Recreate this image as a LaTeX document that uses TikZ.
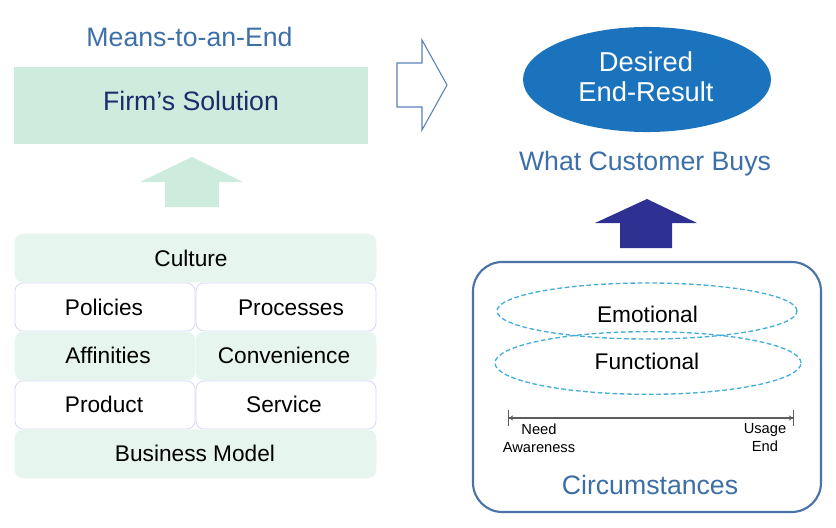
\documentclass[tikz,border=0pt]{standalone}
\usepackage{fontspec}
\setmainfont{Liberation Sans}
\usepackage{tikz}
\usetikzlibrary{positioning}
\usetikzlibrary{arrows.meta}

\definecolor{mint}{HTML}{CDECDD}
\definecolor{mintpale}{HTML}{E6F6EF}
\definecolor{lavender}{HTML}{D8D8F4}
\definecolor{steel}{HTML}{3D6FA7}
\definecolor{navytext}{HTML}{1D2B6A}
\definecolor{resultblue}{HTML}{1B73BE}
\definecolor{navyarrow}{HTML}{2E3192}
\definecolor{outlineblue}{HTML}{5B80B6}
\definecolor{dashblue}{HTML}{45AEDB}
\definecolor{framecol}{HTML}{4A73A8}
\definecolor{linegray}{HTML}{5E5E5E}

\begin{document}
\begin{tikzpicture}[x=0.75pt,y=-0.75pt,
    every node/.style={inner sep=0pt, anchor=base},
    headtext/.style={font=\fontsize{20}{24}\selectfont, text=steel},
    celltext/.style={font=\fontsize{17}{20}\selectfont, text=black},
    greencell/.style={fill=mintpale, draw=mintpale, rounded corners=6pt},
    whitecell/.style={fill=white, draw=lavender, line width=0.6pt, rounded corners=6pt},
    dashring/.style={draw=dashblue, dashed, dash pattern=on 3.5pt off 2pt, line width=1pt},
    smalltext/.style={font=\fontsize{11}{13.5}\selectfont, align=center, anchor=center}]

  \useasboundingbox (0,0) rectangle (836,528);

  % Left side: the firm
  \node[headtext] (means) at (189.5,47) {Means-to-an-End};

  \fill[mint] (14,67) rectangle (368,144);
  \node[headtext, text=navytext] (firm) at (191,111) {Firm’s Solution};

  	% Light arrow up to the solution
  \fill[mint] (165,207) -- (165,182) -- (140,182) -- (192,157) -- (243,182)
    -- (219,182) -- (219,207) -- cycle;

  	% Stack of building blocks
  \draw[greencell] (15,234) rectangle (376,282);
  \draw[whitecell] (15,283) rectangle (195,331);
  \draw[whitecell] (196,283) rectangle (376,331);
  \draw[greencell] (15,332) rectangle (195,380);
  \draw[greencell] (196,332) rectangle (376,380);
  \draw[whitecell] (15,381) rectangle (195,429);
  \draw[whitecell] (196,381) rectangle (376,429);
  \draw[greencell] (15,430) rectangle (376,478);

  \node[celltext] (culture) at (191,266) {Culture};
  \node[celltext] (policies) at (104,315) {Policies};
  \node[celltext] (processes) at (291,315) {Processes};
  \node[celltext] (affinities) at (108,363.5) {Affinities};
  \node[celltext] (convenience) at (284,363.5) {Convenience};
  \node[celltext] (product) at (104,412) {Product};
  \node[celltext] (service) at (284,412) {Service};
  \node[celltext] (business) at (195,461) {Business Model};

  % Hollow arrow between the halves
  \draw[outlineblue, line width=0.8pt, fill=white] (397,63) -- (422,63) -- (422,40)
    -- (447,85) -- (422,130) -- (422,107) -- (397,107) -- cycle;

  % Right side: the customer
  \fill[resultblue] (647,79.5) ellipse [x radius=93pt, y radius=39.4pt];
  \node[font=\fontsize{20.5}{22.5}\selectfont, text=white, align=center, anchor=center]
    (desired) at (646,77) {Desired\\End-Result};

  \node[headtext] (buys) at (645,171) {What Customer Buys};

  	% Dark arrow up to the result
  \fill[navyarrow] (620,248) -- (620,223) -- (595,223) -- (647,199) -- (697,223)
    -- (672,223) -- (672,248) -- cycle;

  	% Frame of circumstances
  \draw[framecol, line width=1.6pt, rounded corners=22pt] (473,262) rectangle (821,512);

  \draw[dashring] (647,311) ellipse [x radius=112.5pt, y radius=21pt];
  \draw[dashring] (648,363) ellipse [x radius=114.75pt, y radius=23.5pt];
  \node[celltext] (emotional) at (647.5,322.7) {Emotional};
  \node[celltext] (functional) at (647,369.3) {Functional};

  	% Time line
  \coordinate (start) at (508,418);
  \coordinate (finish) at (794,418);
  \draw[linegray, line width=0.8pt,
    {Bar[width=12pt]Stealth[length=3pt,width=4pt]}-{Stealth[length=3pt,width=4pt]Bar[width=12pt]}]
    (start) -- (finish);
  \node[smalltext] (need) at (539,438.5) {Need\\Awareness};
  \node[smalltext] (usage) at (765,438) {Usage\\End};

  \node[headtext] (circ) at (650,494) {Circumstances};

\end{tikzpicture}
\end{document}
